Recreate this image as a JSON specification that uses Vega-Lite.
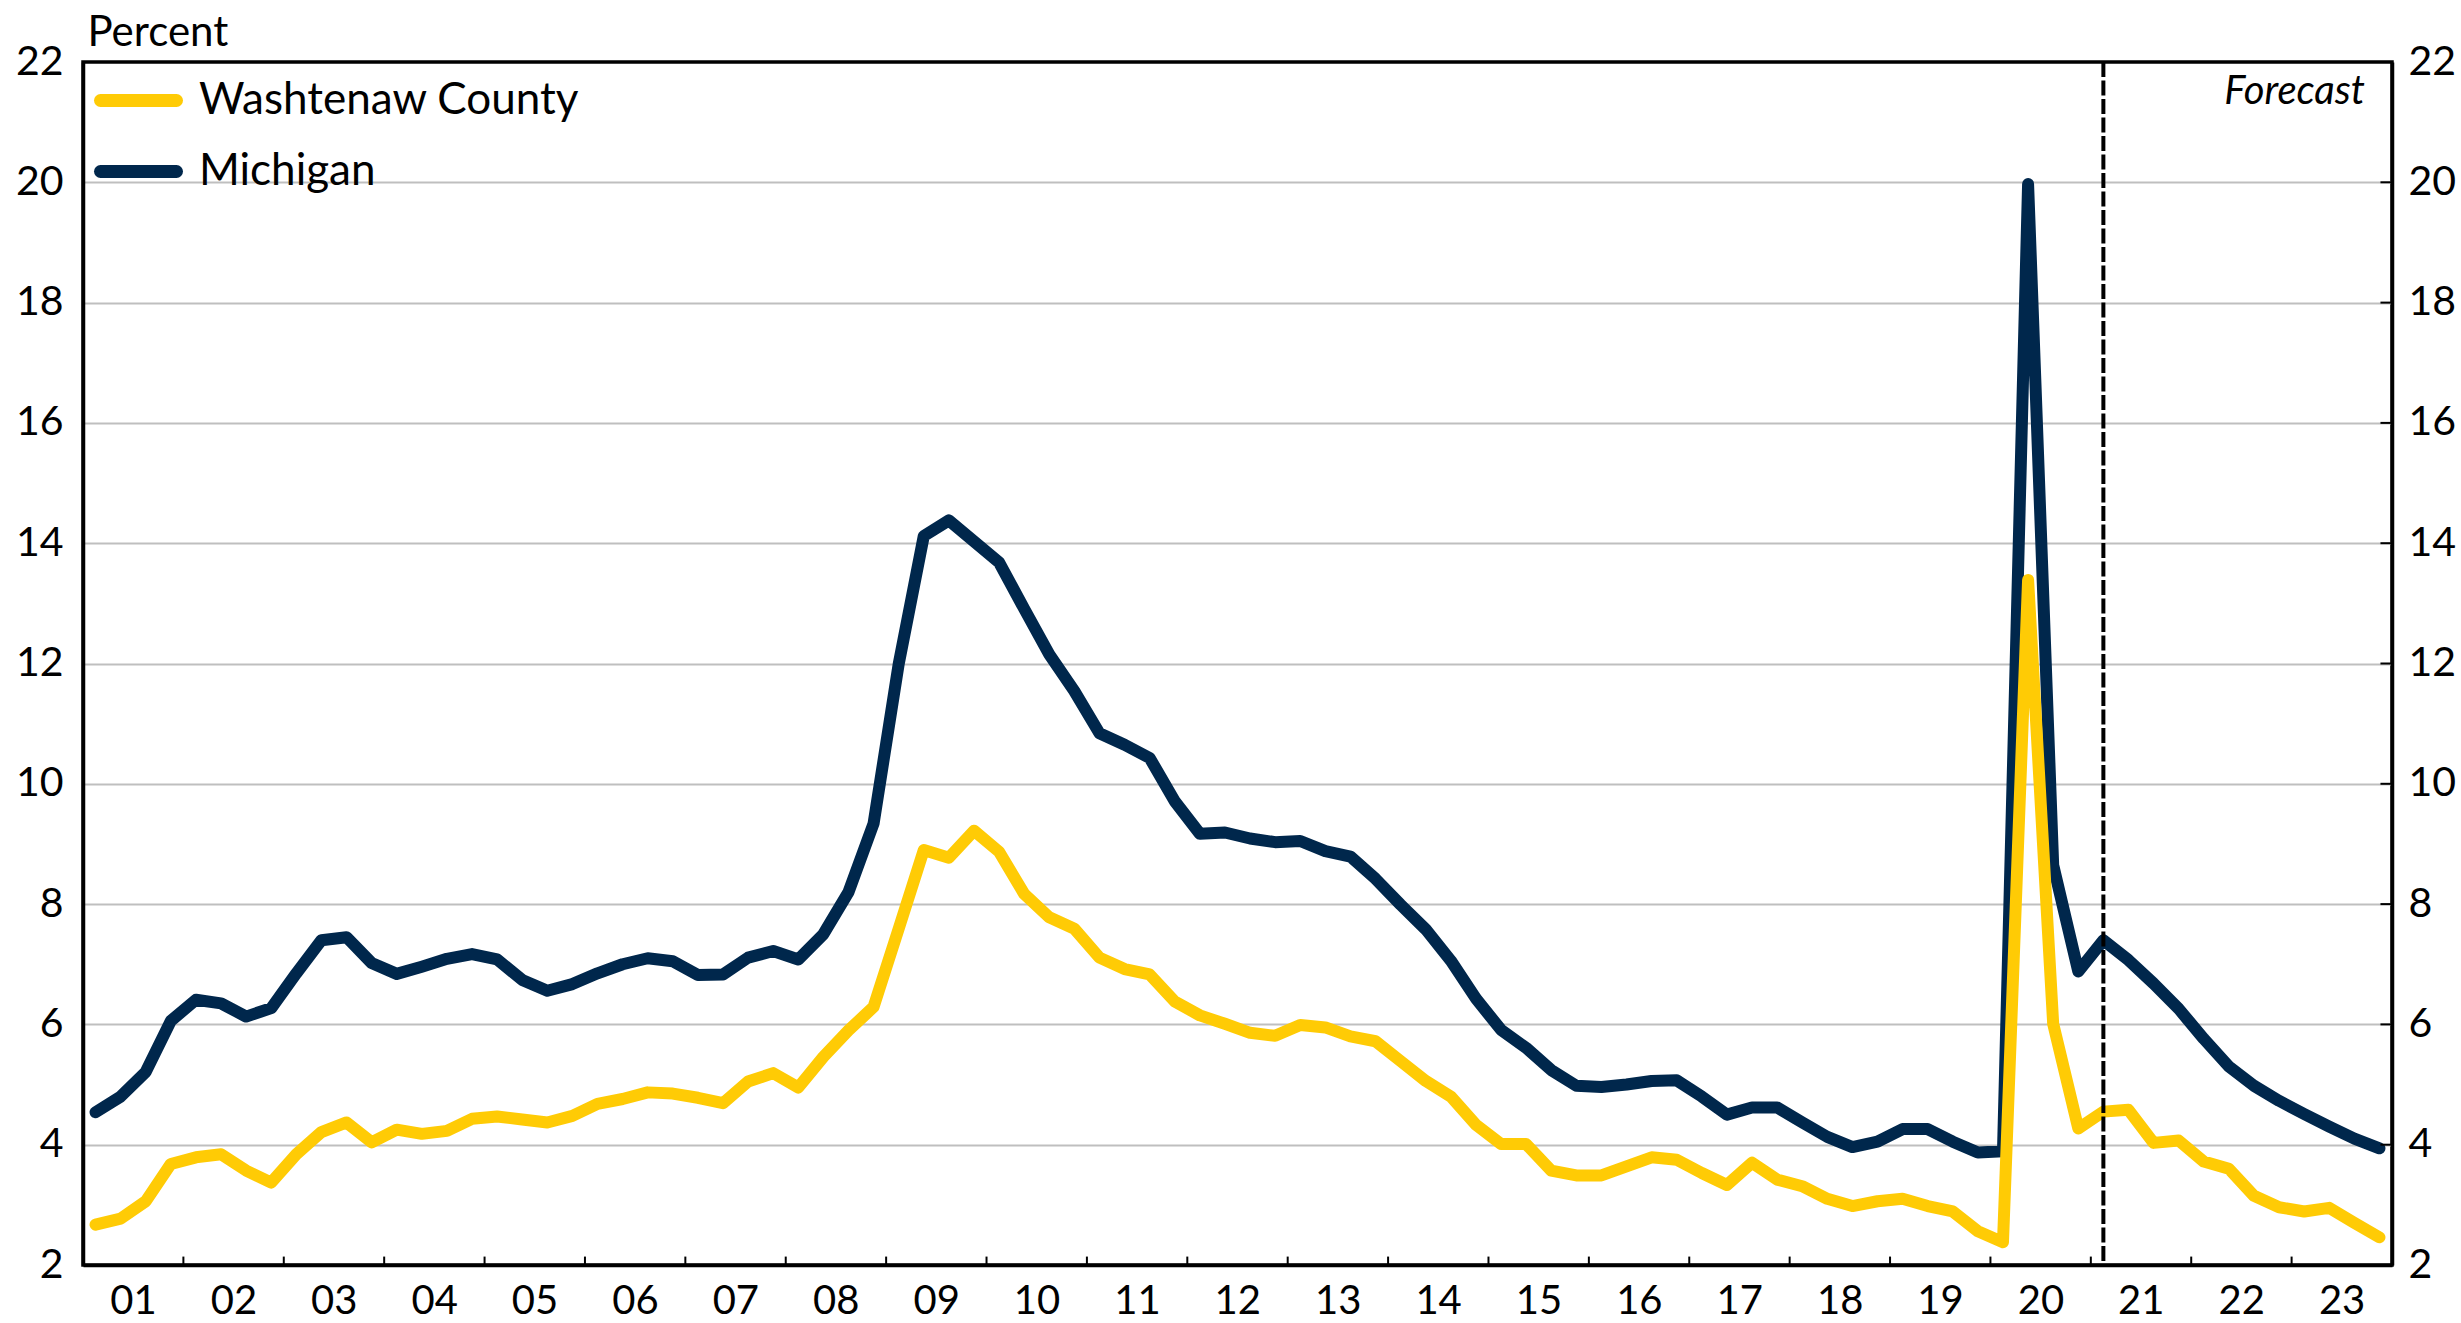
{
  "$schema": "https://vega.github.io/schema/vega-lite/v6.json",
  "width": 2309,
  "height": 1203,
  "autosize": {"type": "none"},
  "padding": {"left": 83, "top": 62, "right": 69, "bottom": 58},
  "background": "white",
  "config": {
    "font": "Lato",
    "view": {"stroke": "black", "strokeWidth": 3.5},
    "axis": {"labelColor": "black", "labelFont": "Lato", "titleFont": "Lato", "titleColor": "black", "titleFontWeight": "normal"}
  },
  "datasets": {
    "years": [
      {"year": 2002}, {"year": 2003}, {"year": 2004}, {"year": 2005}, {"year": 2006}, {"year": 2007},
      {"year": 2008}, {"year": 2009}, {"year": 2010}, {"year": 2011}, {"year": 2012}, {"year": 2013},
      {"year": 2014}, {"year": 2015}, {"year": 2016}, {"year": 2017}, {"year": 2018}, {"year": 2019},
      {"year": 2020}, {"year": 2021}, {"year": 2022}, {"year": 2023}
    ],
    "levels": [
      {"level": 4}, {"level": 6}, {"level": 8}, {"level": 10}, {"level": 12},
      {"level": 14}, {"level": 16}, {"level": 18}, {"level": 20}
    ],
    "rates": [
      {"t": 2001.125, "Michigan": 4.54, "Washtenaw County": 2.67},
      {"t": 2001.375, "Michigan": 4.80, "Washtenaw County": 2.77},
      {"t": 2001.625, "Michigan": 5.21, "Washtenaw County": 3.06},
      {"t": 2001.875, "Michigan": 6.06, "Washtenaw County": 3.68},
      {"t": 2002.125, "Michigan": 6.41, "Washtenaw County": 3.79},
      {"t": 2002.375, "Michigan": 6.35, "Washtenaw County": 3.84},
      {"t": 2002.625, "Michigan": 6.13, "Washtenaw County": 3.57},
      {"t": 2002.875, "Michigan": 6.27, "Washtenaw County": 3.37},
      {"t": 2003.125, "Michigan": 6.85, "Washtenaw County": 3.84},
      {"t": 2003.375, "Michigan": 7.40, "Washtenaw County": 4.21},
      {"t": 2003.625, "Michigan": 7.45, "Washtenaw County": 4.37},
      {"t": 2003.875, "Michigan": 7.02, "Washtenaw County": 4.04},
      {"t": 2004.125, "Michigan": 6.84, "Washtenaw County": 4.25},
      {"t": 2004.375, "Michigan": 6.96, "Washtenaw County": 4.18},
      {"t": 2004.625, "Michigan": 7.09, "Washtenaw County": 4.23},
      {"t": 2004.875, "Michigan": 7.17, "Washtenaw County": 4.43},
      {"t": 2005.125, "Michigan": 7.08, "Washtenaw County": 4.47},
      {"t": 2005.375, "Michigan": 6.74, "Washtenaw County": 4.42},
      {"t": 2005.625, "Michigan": 6.56, "Washtenaw County": 4.37},
      {"t": 2005.875, "Michigan": 6.67, "Washtenaw County": 4.48},
      {"t": 2006.125, "Michigan": 6.85, "Washtenaw County": 4.68},
      {"t": 2006.375, "Michigan": 7.00, "Washtenaw County": 4.76},
      {"t": 2006.625, "Michigan": 7.10, "Washtenaw County": 4.87},
      {"t": 2006.875, "Michigan": 7.05, "Washtenaw County": 4.85},
      {"t": 2007.125, "Michigan": 6.82, "Washtenaw County": 4.78},
      {"t": 2007.375, "Michigan": 6.83, "Washtenaw County": 4.69},
      {"t": 2007.625, "Michigan": 7.11, "Washtenaw County": 5.05},
      {"t": 2007.875, "Michigan": 7.22, "Washtenaw County": 5.19},
      {"t": 2008.125, "Michigan": 7.08, "Washtenaw County": 4.95},
      {"t": 2008.375, "Michigan": 7.50, "Washtenaw County": 5.46},
      {"t": 2008.625, "Michigan": 8.20, "Washtenaw County": 5.90},
      {"t": 2008.875, "Michigan": 9.34, "Washtenaw County": 6.29},
      {"t": 2009.125, "Michigan": 11.99, "Washtenaw County": 7.59},
      {"t": 2009.375, "Michigan": 14.12, "Washtenaw County": 8.90},
      {"t": 2009.625, "Michigan": 14.38, "Washtenaw County": 8.77},
      {"t": 2009.875, "Michigan": 14.03, "Washtenaw County": 9.22},
      {"t": 2010.125, "Michigan": 13.68, "Washtenaw County": 8.87},
      {"t": 2010.375, "Michigan": 12.91, "Washtenaw County": 8.17},
      {"t": 2010.625, "Michigan": 12.15, "Washtenaw County": 7.78},
      {"t": 2010.875, "Michigan": 11.54, "Washtenaw County": 7.59},
      {"t": 2011.125, "Michigan": 10.84, "Washtenaw County": 7.11},
      {"t": 2011.375, "Michigan": 10.65, "Washtenaw County": 6.92},
      {"t": 2011.625, "Michigan": 10.43, "Washtenaw County": 6.83},
      {"t": 2011.875, "Michigan": 9.71, "Washtenaw County": 6.38},
      {"t": 2012.125, "Michigan": 9.17, "Washtenaw County": 6.15},
      {"t": 2012.375, "Michigan": 9.19, "Washtenaw County": 6.01},
      {"t": 2012.625, "Michigan": 9.09, "Washtenaw County": 5.86},
      {"t": 2012.875, "Michigan": 9.03, "Washtenaw County": 5.81},
      {"t": 2013.125, "Michigan": 9.05, "Washtenaw County": 5.99},
      {"t": 2013.375, "Michigan": 8.88, "Washtenaw County": 5.95},
      {"t": 2013.625, "Michigan": 8.79, "Washtenaw County": 5.80},
      {"t": 2013.875, "Michigan": 8.42, "Washtenaw County": 5.72},
      {"t": 2014.125, "Michigan": 7.99, "Washtenaw County": 5.39},
      {"t": 2014.375, "Michigan": 7.58, "Washtenaw County": 5.06},
      {"t": 2014.625, "Michigan": 7.06, "Washtenaw County": 4.80},
      {"t": 2014.875, "Michigan": 6.43, "Washtenaw County": 4.33},
      {"t": 2015.125, "Michigan": 5.91, "Washtenaw County": 4.01},
      {"t": 2015.375, "Michigan": 5.61, "Washtenaw County": 4.01},
      {"t": 2015.625, "Michigan": 5.24, "Washtenaw County": 3.57},
      {"t": 2015.875, "Michigan": 4.98, "Washtenaw County": 3.49},
      {"t": 2016.125, "Michigan": 4.96, "Washtenaw County": 3.49},
      {"t": 2016.375, "Michigan": 5.00, "Washtenaw County": 3.64},
      {"t": 2016.625, "Michigan": 5.06, "Washtenaw County": 3.79},
      {"t": 2016.875, "Michigan": 5.07, "Washtenaw County": 3.75},
      {"t": 2017.125, "Michigan": 4.80, "Washtenaw County": 3.53},
      {"t": 2017.375, "Michigan": 4.50, "Washtenaw County": 3.33},
      {"t": 2017.625, "Michigan": 4.62, "Washtenaw County": 3.70},
      {"t": 2017.875, "Michigan": 4.62, "Washtenaw County": 3.42},
      {"t": 2018.125, "Michigan": 4.37, "Washtenaw County": 3.31},
      {"t": 2018.375, "Michigan": 4.13, "Washtenaw County": 3.10},
      {"t": 2018.625, "Michigan": 3.96, "Washtenaw County": 2.98},
      {"t": 2018.875, "Michigan": 4.05, "Washtenaw County": 3.06},
      {"t": 2019.125, "Michigan": 4.26, "Washtenaw County": 3.10},
      {"t": 2019.375, "Michigan": 4.26, "Washtenaw County": 2.98},
      {"t": 2019.625, "Michigan": 4.05, "Washtenaw County": 2.89},
      {"t": 2019.875, "Michigan": 3.87, "Washtenaw County": 2.56},
      {"t": 2020.125, "Michigan": 3.89, "Washtenaw County": 2.38},
      {"t": 2020.375, "Michigan": 19.97, "Washtenaw County": 13.39},
      {"t": 2020.625, "Michigan": 8.65, "Washtenaw County": 6.01},
      {"t": 2020.875, "Michigan": 6.88, "Washtenaw County": 4.27},
      {"t": 2021.125, "Michigan": 7.40, "Washtenaw County": 4.55},
      {"t": 2021.375, "Michigan": 7.07, "Washtenaw County": 4.58},
      {"t": 2021.625, "Michigan": 6.68, "Washtenaw County": 4.03},
      {"t": 2021.875, "Michigan": 6.26, "Washtenaw County": 4.07},
      {"t": 2022.125, "Michigan": 5.76, "Washtenaw County": 3.72},
      {"t": 2022.375, "Michigan": 5.30, "Washtenaw County": 3.60},
      {"t": 2022.625, "Michigan": 4.98, "Washtenaw County": 3.15},
      {"t": 2022.875, "Michigan": 4.73, "Washtenaw County": 2.96},
      {"t": 2023.125, "Michigan": 4.51, "Washtenaw County": 2.89},
      {"t": 2023.375, "Michigan": 4.30, "Washtenaw County": 2.95},
      {"t": 2023.625, "Michigan": 4.10, "Washtenaw County": 2.70},
      {"t": 2023.875, "Michigan": 3.94, "Washtenaw County": 2.46}
    ]
  },
  "layer": [
    {
      "data": {"name": "rates"},
      "transform": [{"fold": ["Michigan", "Washtenaw County"], "as": ["series", "rate"]}],
      "mark": {"type": "line", "strokeWidth": 12, "strokeCap": "round", "strokeJoin": "round"},
      "encoding": {
        "x": {
          "field": "t", "type": "quantitative",
          "scale": {"domain": [2001, 2024], "nice": false, "zero": false},
          "axis": {
            "orient": "bottom", "title": null, "grid": false,
            "values": [2001, 2002, 2003, 2004, 2005, 2006, 2007, 2008, 2009, 2010, 2011, 2012, 2013, 2014, 2015, 2016, 2017, 2018, 2019, 2020, 2021, 2022, 2023],
            "labelExpr": "substring(toString(datum.value), 2, 4)",
            "labelOffset": 50, "labelAlign": "center", "labelFontSize": 40, "labelPadding": 16,
            "ticks": false,
            "domainColor": "black", "domainWidth": 3.5
          }
        },
        "y": {
          "field": "rate", "type": "quantitative",
          "scale": {"domain": [2, 22], "nice": false, "zero": false},
          "axis": {
            "orient": "left",
            "values": [2, 4, 6, 8, 10, 12, 14, 16, 18, 20, 22],
            "grid": true, "gridColor": "#bfbfbf", "gridWidth": 2,
            "gridOpacity": {"condition": {"test": "datum.value <= 2 || datum.value >= 22", "value": 0}, "value": 1},
            "ticks": false, "labelPadding": 20, "labelFontSize": 41,
            "domainColor": "black", "domainWidth": 3.5,
            "title": "Percent", "titleAngle": 0, "titleAlign": "left", "titleBaseline": "alphabetic",
            "titleX": 4, "titleY": -17, "titleFontSize": 42
          }
        },
        "color": {
          "field": "series", "type": "nominal",
          "scale": {"domain": ["Washtenaw County", "Michigan"], "range": ["#FFCB05", "#00274C"]},
          "legend": {
            "title": null, "orient": "none", "legendX": 11, "legendY": -6, "padding": 0,
            "symbolType": "stroke", "symbolSize": 5776, "symbolStrokeWidth": 13,
            "labelFontSize": 44, "labelColor": "black", "labelFont": "Lato", "labelOffset": 16,
            "labelLimit": 1000, "rowPadding": -10,
            "encode": {"symbols": {"update": {"strokeCap": {"value": "round"}}}}
          }
        }
      }
    },
    {
      "data": {"name": "years"},
      "mark": {"type": "rule", "strokeWidth": 2, "color": "black"},
      "encoding": {
        "x": {"field": "year", "type": "quantitative"},
        "y": {"datum": 2, "type": "quantitative", "axis": null},
        "y2": {"datum": 2.14}
      }
    },
    {
      "data": {"name": "levels"},
      "mark": {"type": "rule", "strokeWidth": 2, "color": "black"},
      "encoding": {
        "x": {"datum": 2023.885, "type": "quantitative"},
        "x2": {"datum": 2024},
        "y": {"field": "level", "type": "quantitative", "axis": null}
      }
    },
    {
      "data": {"values": [{}]},
      "mark": {"type": "rule", "strokeDash": [15, 3.5], "strokeWidth": 4, "color": "black"},
      "encoding": {
        "x": {"datum": 2021.125, "type": "quantitative"}
      }
    },
    {
      "data": {"values": [{}]},
      "mark": {"type": "text", "text": "Forecast", "font": "Lato", "fontStyle": "italic", "fontSize": 40, "align": "right", "baseline": "alphabetic", "dx": -27, "color": "black"},
      "encoding": {
        "x": {"datum": 2024, "type": "quantitative"},
        "y": {
          "datum": 21.3, "type": "quantitative",
          "axis": {
            "orient": "right", "title": null,
            "values": [2, 4, 6, 8, 10, 12, 14, 16, 18, 20, 22],
            "grid": false, "ticks": false,
            "labelPadding": 16, "labelFontSize": 41,
            "domainColor": "black", "domainWidth": 3.5
          }
        }
      }
    }
  ]
}
